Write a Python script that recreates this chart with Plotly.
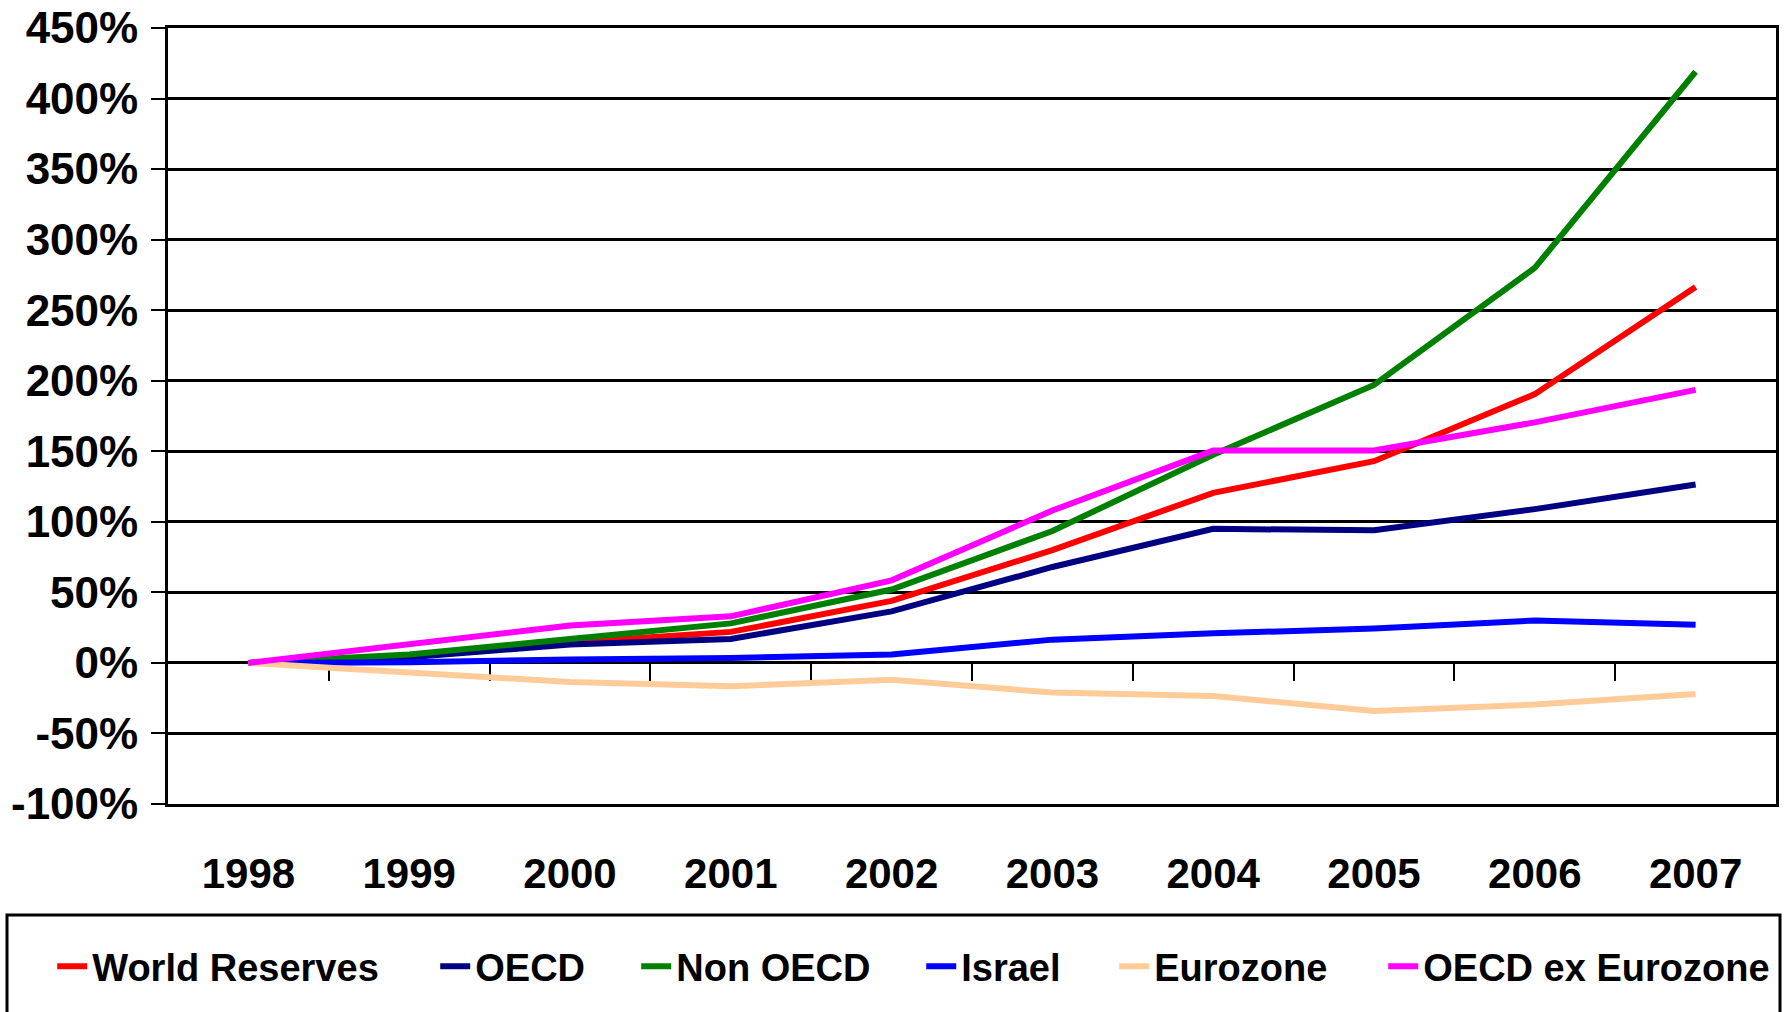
import plotly.graph_objects as go

# Growth of foreign-exchange reserves since 1998 (% change)
years = ["1998", "1999", "2000", "2001", "2002", "2003", "2004", "2005", "2006", "2007"]
world_reserves = [0, 5, 14.5, 22, 44, 80, 120.5, 143, 190.5, 266.5]
oecd = [0, 4, 13, 17, 36.5, 68, 95, 94, 109, 126.5]
non_oecd = [0, 6, 17, 28, 52, 93.5, 147.5, 197, 280, 419]
israel = [0, 0.5, 2.5, 3.5, 6, 16.5, 21, 24.3, 30, 27]
eurozone = [0, -7, -13.5, -16.5, -12, -21, -23.5, -34, -29.5, -22]
oecd_ex_eurozone = [0, 13, 26.5, 33, 58.5, 108, 150.5, 150.5, 170.5, 193.5]

y_ticks = [-100, -50, 0, 50, 100, 150, 200, 250, 300, 350, 400, 450]
y_tick_labels = ["-100%", "-50%", "0%", "50%", "100%", "150%", "200%",
                 "250%", "300%", "350%", "400%", "450%"]

series = [
    ("World Reserves", world_reserves, "#FF0000", 338),
    ("OECD", oecd, "#000080", 156),
    ("Non OECD", non_oecd, "#008000", 240),
    ("Israel", israel, "#0000FF", 148),
    ("Eurozone", eurozone, "#FFCC99", 224),
    ("OECD ex Eurozone", oecd_ex_eurozone, "#FF00FF", None),
]

FONT = "Liberation Sans, Arial, sans-serif"
x_idx = list(range(len(years)))

fig = go.Figure()
for name, vals, color, lw in series:
    tr = go.Scatter(
        x=x_idx, y=vals, name=name, mode="lines",
        line=dict(color=color, width=6),
    )
    if lw is not None:
        tr.legendwidth = lw
    fig.add_trace(tr)

# helper trace so the zero-line tick axis is rendered
fig.add_trace(go.Scatter(x=[], y=[], xaxis="x2", showlegend=False, hoverinfo="skip"))

fig.update_layout(
    width=1787, height=1012,
    margin=dict(l=168, r=11, t=28, b=208, autoexpand=False),
    paper_bgcolor="white", plot_bgcolor="white",
    font=dict(family=FONT, color="black"),
    showlegend=True,
    legend=dict(
        orientation="h", x=-0.072, xanchor="left", y=-0.169, yanchor="top",
        font=dict(family=FONT, size=38, color="black", weight="bold"),
        bgcolor="rgba(0,0,0,0)", borderwidth=0,
        itemwidth=30, traceorder="normal",
    ),
    xaxis=dict(
        type="linear", range=[-0.5, len(years) - 0.5],
        tickmode="array", tickvals=x_idx, ticktext=years,
        ticks="", showgrid=False, zeroline=False,
        showline=True, linecolor="black", linewidth=3, mirror=True,
        tickfont=dict(family=FONT, size=42, color="black", weight="bold"),
        ticklabelstandoff=31,
    ),
    xaxis2=dict(
        type="linear", range=[-0.5, len(years) - 0.5], overlaying="x",
        anchor="free", position=100 / 550,
        tickmode="array", tickvals=[i + 0.5 for i in range(len(years) - 1)],
        ticks="outside", ticklen=17, tickwidth=2, tickcolor="black",
        showticklabels=False, showgrid=False, zeroline=False, showline=False,
        layer="below traces",
    ),
    yaxis=dict(
        range=[-100, 450], tickmode="array", tickvals=y_ticks, ticktext=y_tick_labels,
        showgrid=True, gridcolor="black", gridwidth=2.5, zeroline=False,
        showline=True, linecolor="black", linewidth=3, mirror=True,
        ticks="outside", ticklen=14, tickwidth=2, tickcolor="black",
        tickfont=dict(family=FONT, size=44, color="black", weight="bold"),
        ticklabelstandoff=4,
    ),
    shapes=[
        dict(
            type="rect", xref="paper", yref="paper",
            x0=(7 - 168) / 1608, x1=(1780 - 168) / 1608,
            y0=(804 - 915) / 776, y1=(804 - 1040) / 776,
            line=dict(color="black", width=3), fillcolor="rgba(0,0,0,0)",
            layer="below",
        )
    ],
)

fig.write_html("out.html")
